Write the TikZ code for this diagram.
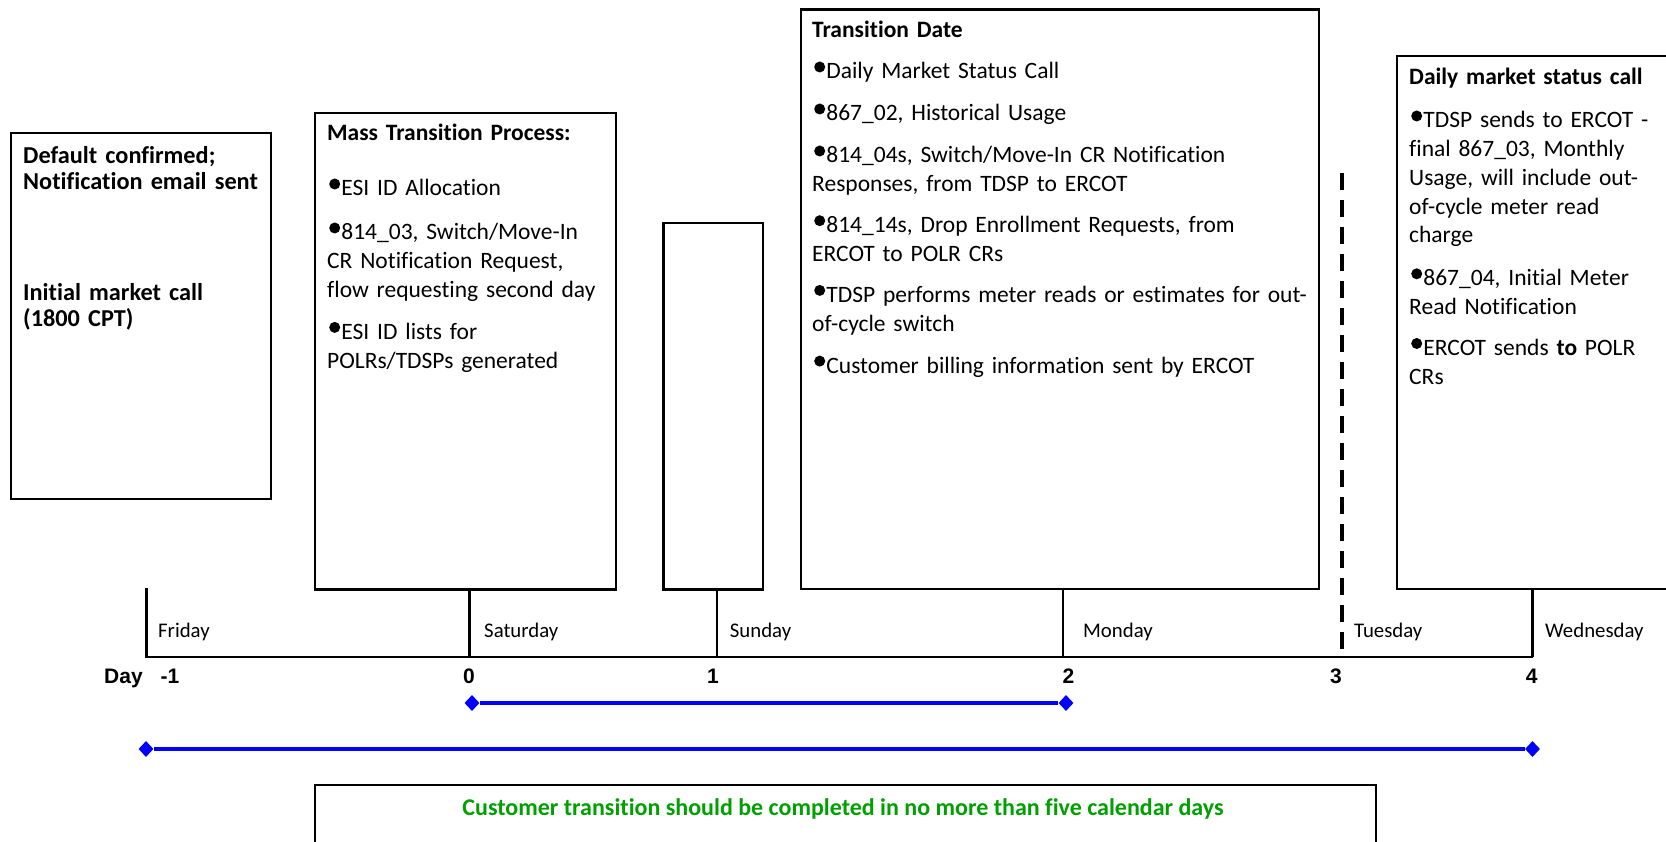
\documentclass[tikz,border=0pt]{standalone}
\usepackage{fontspec}
\setmainfont{Carlito}[Ligatures={NoCommon}]
\newfontfamily\arialf{Liberation Sans}
\usetikzlibrary{shapes.geometric}
\definecolor{tgreen}{RGB}{0,160,0}
\definecolor{tblue}{RGB}{0,0,255}
\newcommand{\bul}{\hspace{2pt}\tikz[baseline=0pt]\fill (5.5pt,12pt) circle (5.5pt);\hspace{1.2pt}}
\newcommand{\bodyf}{\fontsize{23.5}{28.7}\selectfont}
\newcommand{\dayf}{\fontsize{20.8}{24}\selectfont}
\newcommand{\numf}{\arialf\bfseries\fontsize{21}{24}\selectfont}
\begin{document}
\begin{tikzpicture}[x=1pt,y=-1pt,
  box/.style={draw=black, line width=2.4pt, rectangle, inner sep=0pt, anchor=north west},
  txt/.style={anchor=base west, inner sep=0pt, align=left, text width=560pt, font=\bodyf},
  dayl/.style={anchor=base west, inner sep=0pt, font=\dayf},
  numl/.style={anchor=base, inner sep=0pt, font=\numf},
  tline/.style={draw=black, line width=2.2pt},
  dash3/.style={draw=black, line width=3.6pt, dash pattern=on 17pt off 10pt},
  dia/.style={diamond, fill=tblue, inner sep=0pt, minimum width=15pt, minimum height=16pt},
  bline/.style={draw=tblue, line width=3.5pt}
]
\useasboundingbox (0,0) rectangle (1666,842);
\fill[white] (0,0) rectangle (1666,842);

% boxes
\node[box, minimum width=260pt, minimum height=366pt] (b1) at (10,132) {};
\node[box, minimum width=301.5pt, minimum height=476.5pt] (b2) at (313.5,111.7) {};
\node[box, minimum width=99.5pt, minimum height=366.5pt] (b3) at (662.3,221.7) {};
\node[box, minimum width=518.2pt, minimum height=579.5pt] (b4) at (799.5,8.5) {};
\begin{scope}
\clip (0,0) rectangle (1666,842);
\node[box, minimum width=300pt, minimum height=533pt] (b5) at (1396,55) {};
\node[box, minimum width=1061pt, minimum height=80pt] (bb) at (314,784) {};
\end{scope}

% box 1 text
\node[txt, text width=240pt, font=\fontsize{24.3}{26}\selectfont\bfseries] (t1a) at (23,164) {Default confirmed;\\Notification email sent};
\node[txt, text width=240pt, font=\fontsize{24.3}{26}\selectfont\bfseries] (t1b) at (23,301) {Initial market call\\(1800 CPT)};

% box 2 text
\node[txt, text width=285pt] (t2) at (327,141) {\textbf{Mass Transition Process:}\\[26.3pt]
\bul ESI ID Allocation\\[15.3pt]
\bul 814\_03, Switch/Move-In\\CR Notification Request,\\flow requesting second day\\[13.3pt]
\bul ESI ID lists for\\POLRs/TDSPs generated};

% box 4 text
\node[txt, text width=500pt] (t4) at (812,38) {\textbf{Transition Date}\\[12.3pt]
\bul Daily Market Status Call\\[13.3pt]
\bul 867\_02, Historical Usage\\[13.3pt]
\bul 814\_04s, Switch/Move-In CR Notification\\Responses, from TDSP to ERCOT\\[12.3pt]
\bul 814\_14s, Drop Enrollment Requests, from\\ERCOT to POLR CRs\\[12.3pt]
\bul TDSP performs meter reads or estimates for out-\\of-cycle switch\\[13.3pt]
\bul Customer billing information sent by ERCOT};

% box 5 text
\node[txt, text width=255pt] (t5) at (1409,85) {\textbf{Daily market status call}\\[14.3pt]
\bul TDSP sends to ERCOT -\\final 867\_03, Monthly\\Usage, will include out-\\of-cycle meter read\\charge\\[14.3pt]
\bul 867\_04, Initial Meter\\Read Notification\\[12.3pt]
\bul ERCOT sends \textbf{to} POLR\\CRs};

% timeline
\coordinate (tA) at (146.5,588);
\coordinate (tAb) at (146.5,657);
\coordinate (tE) at (1532.5,657);
\draw[tline] (tA) -- (tAb) -- (tE);
\draw[tline] (469.5,588) -- (469.5,657);
\draw[tline] (717,588) -- (717,657);
\draw[tline] (1062.7,588) -- (1062.7,657);
\draw[tline] (1532.5,588) -- (1532.5,657);
\draw[dash3] (1342,173) -- (1342,657);

% day labels
\node[dayl] (dfri) at (158,637) {Friday};
\node[dayl] (dsat) at (484,637) {Saturday};
\node[dayl] (dsun) at (729.7,637) {Sunday};
\node[dayl] (dmon) at (1083,637) {Monday};
\node[dayl] (dtue) at (1354,637) {Tuesday};
\node[dayl] (dwed) at (1545,637) {Wednesday};

% numbers
\node[numl, anchor=base west] (nday) at (104,683) {Day};
\node[numl] (nm1) at (170,683) {-1};
\node[numl] (n0) at (469,683) {0};
\node[numl] (n1) at (713,683) {1};
\node[numl] (n2) at (1068.5,683) {2};
\node[numl] (n3) at (1336,683) {3};
\node[numl] (n4) at (1531.6,683) {4};

% blue spans
\node[dia] (s0) at (472,703) {};
\node[dia] (s2) at (1066,703) {};
\draw[bline] (s0) -- (s2);
\node[dia] (f0) at (146,749) {};
\node[dia] (f4) at (1532.5,749) {};
\draw[bline] (f0) -- (f4);

% bottom text
\node[anchor=base, inner sep=0pt, font=\fontsize{24}{28}\selectfont\bfseries, text=tgreen] (gt) at (843,815) {Customer transition should be completed in no more than five calendar days};
\end{tikzpicture}
\end{document}
